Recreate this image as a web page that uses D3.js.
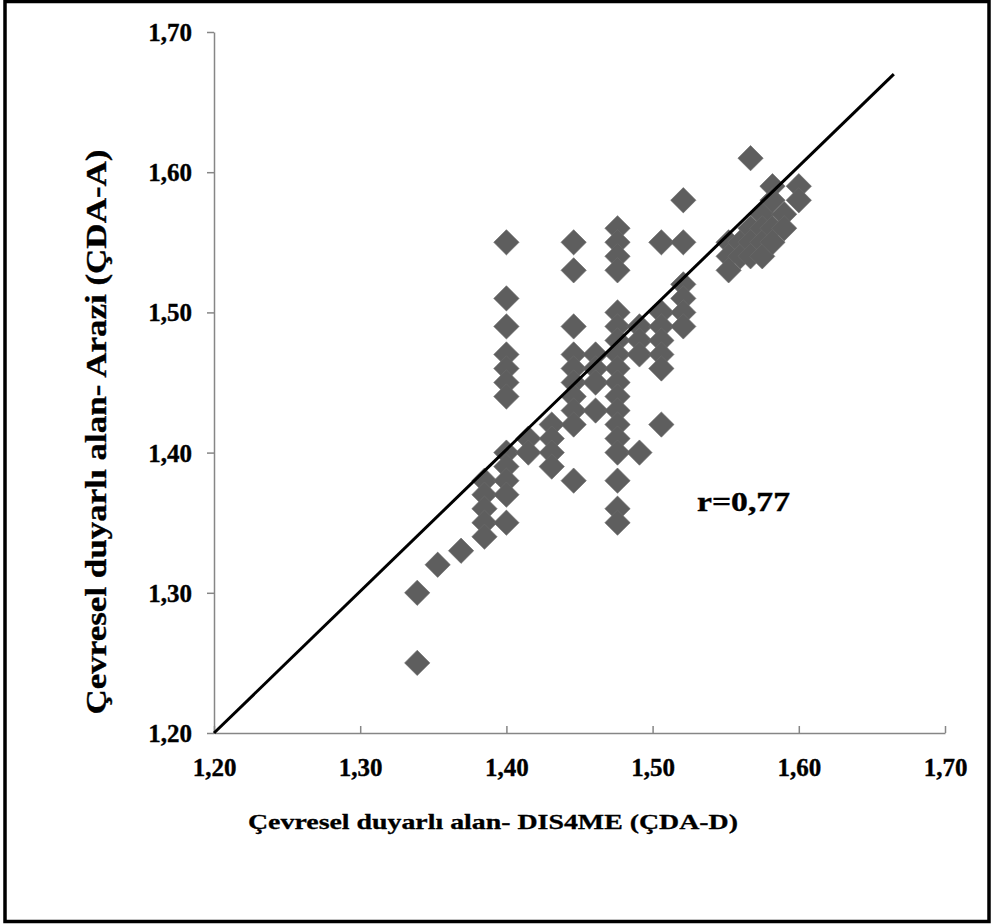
<!DOCTYPE html>
<html>
<head>
<meta charset="utf-8">
<script src="https://cdn.jsdelivr.net/npm/d3@7/dist/d3.min.js"></script>
<style>
  html, body { margin: 0; padding: 0; background: #fff; }
  svg { display: block; }
  svg text { font-family: "Liberation Serif", "Times New Roman", serif !important; font-weight: 700 !important; fill: #000; }
</style>
</head>
<body>
<svg id="chart" width="992" height="924"></svg>
<script>
// ---- Data ----
const xTicks = [1.20, 1.30, 1.40, 1.50, 1.60, 1.70];
const yTicks = [1.20, 1.30, 1.40, 1.50, 1.60, 1.70];
const xTitle = "Çevresel duyarlı alan- DIS4ME (ÇDA-D)";
const yTitle = "Çevresel duyarlı alan- Arazi (ÇDA-A)";
const rLabel = "r=0,77";

// x values (ÇDA-D) and matching y values (ÇDA-A)
const xValues = [
  1.339, 1.339,
  1.353,
  1.369,
  1.385, 1.385, 1.385, 1.385, 1.385,
  1.400, 1.400, 1.400, 1.400, 1.400, 1.400, 1.400, 1.400, 1.400, 1.400, 1.400, 1.400,
  1.415, 1.415,
  1.431, 1.431, 1.431, 1.431,
  1.446, 1.446, 1.446, 1.446, 1.446, 1.446, 1.446, 1.446, 1.446, 1.446,
  1.461, 1.461, 1.461, 1.461,
  1.476, 1.476, 1.476, 1.476, 1.476, 1.476, 1.476, 1.476, 1.476, 1.476, 1.476, 1.476, 1.476, 1.476, 1.476, 1.476, 1.476, 1.476,
  1.491, 1.491, 1.491, 1.491,
  1.506, 1.506, 1.506, 1.506, 1.506, 1.506, 1.506,
  1.521, 1.521, 1.521, 1.521, 1.521, 1.521,
  1.552, 1.552, 1.552,
  1.560, 1.560,
  1.567, 1.567, 1.567, 1.567,
  1.575, 1.575, 1.575, 1.575,
  1.582, 1.582, 1.582, 1.582,
  1.590, 1.590,
  1.600, 1.600
];
const yValues = [
  1.30, 1.25,
  1.32,
  1.33,
  1.38, 1.37, 1.36, 1.35, 1.34,
  1.55, 1.51, 1.49, 1.47, 1.46, 1.45, 1.44, 1.40, 1.39, 1.38, 1.37, 1.35,
  1.41, 1.40,
  1.42, 1.41, 1.40, 1.39,
  1.55, 1.53, 1.49, 1.47, 1.46, 1.45, 1.44, 1.43, 1.42, 1.38,
  1.47, 1.46, 1.45, 1.43,
  1.56, 1.55, 1.54, 1.53, 1.50, 1.49, 1.48, 1.47, 1.46, 1.45, 1.44, 1.43, 1.42, 1.41, 1.40, 1.38, 1.36, 1.35,
  1.49, 1.48, 1.47, 1.40,
  1.55, 1.50, 1.49, 1.48, 1.47, 1.46, 1.42,
  1.58, 1.55, 1.52, 1.51, 1.50, 1.49,
  1.55, 1.54, 1.53,
  1.55, 1.54,
  1.61, 1.56, 1.55, 1.54,
  1.57, 1.56, 1.55, 1.54,
  1.59, 1.58, 1.56, 1.55,
  1.57, 1.56,
  1.59, 1.58
];
// trend line end points
const lineX = [1.20, 1.665];
const lineY = [1.20, 1.670];

// ---- Drawing ----
const svg = d3.select("#chart");
const W = 992, H = 924;

// outer frame
svg.append("rect")
  .attr("x", 5).attr("y", 1.5)
  .attr("width", W - 8).attr("height", H - 4)
  .attr("fill", "#fff").attr("stroke", "#000").attr("stroke-width", 3.5);

const x = d3.scaleLinear().domain([1.2, 1.7]).range([214, 945]);
const y = d3.scaleLinear().domain([1.2, 1.7]).range([733, 32]);
const fmt = d => d3.format(".2f")(d).replace(".", ",");

// Y axis
const yAxis = svg.append("g")
  .attr("transform", `translate(${x(1.2)},0)`)
  .call(d3.axisLeft(y).tickValues(yTicks).tickFormat(fmt).tickSize(7).tickSizeOuter(0).tickPadding(15));
yAxis.select(".domain").attr("stroke", "#868686").attr("stroke-width", 1.5);
yAxis.selectAll(".tick line").attr("stroke", "#868686").attr("stroke-width", 1.5);
yAxis.selectAll(".tick text").attr("font-size", 25).attr("fill", "#000").attr("dy", "0.34em")
  .attr("stroke", "#000").attr("stroke-width", 0.35);

// X axis (ticks pointing up into the plot)
const xAxis = svg.append("g")
  .attr("transform", `translate(0,${y(1.2)})`)
  .call(d3.axisBottom(x).tickValues(xTicks).tickFormat(fmt).tickSizeInner(-7).tickSizeOuter(0).tickPadding(0));
xAxis.select(".domain").attr("stroke", "#868686").attr("stroke-width", 1.5);
xAxis.selectAll(".tick line").attr("stroke", "#868686").attr("stroke-width", 1.5);
xAxis.selectAll(".tick text").attr("font-size", 25).attr("fill", "#000").attr("y", 43).attr("dy", "0")
  .attr("stroke", "#000").attr("stroke-width", 0.35);

// points (diamonds)
const pts = xValues.map((v, i) => ({ x: v, y: yValues[i] }));
const sq = d3.symbol().type(d3.symbolSquare).size(320);
svg.append("g").selectAll("path")
  .data(pts)
  .join("path")
  .attr("d", sq)
  .attr("transform", d => `translate(${x(d.x)},${y(d.y)}) rotate(45)`)
  .attr("fill", "#5e5e5e")
  .attr("stroke", "#6a6a6a")
  .attr("stroke-width", 0.6);

// trend line
svg.append("line")
  .attr("x1", x(lineX[0])).attr("y1", y(lineY[0]))
  .attr("x2", x(lineX[1])).attr("y2", y(lineY[1]))
  .attr("stroke", "#000").attr("stroke-width", 3);

// r label
svg.append("text")
  .attr("x", 697).attr("y", 511)
  .attr("font-size", 27)
  .attr("textLength", 93).attr("lengthAdjust", "spacingAndGlyphs")
  .attr("stroke", "#000").attr("stroke-width", 0.35)
  .text(rLabel);

// axis titles
svg.append("text")
  .attr("x", 493).attr("y", 829)
  .attr("text-anchor", "middle")
  .attr("font-size", 22)
  .attr("textLength", 490).attr("lengthAdjust", "spacingAndGlyphs")
  .attr("stroke", "#000").attr("stroke-width", 0.3)
  .text(xTitle);

svg.append("text")
  .attr("transform", `translate(106,432) rotate(-90)`)
  .attr("text-anchor", "middle")
  .attr("font-size", 29)
  .attr("textLength", 565).attr("lengthAdjust", "spacingAndGlyphs")
  .attr("stroke", "#000").attr("stroke-width", 0.35)
  .text(yTitle);
</script>
</body>
</html>
